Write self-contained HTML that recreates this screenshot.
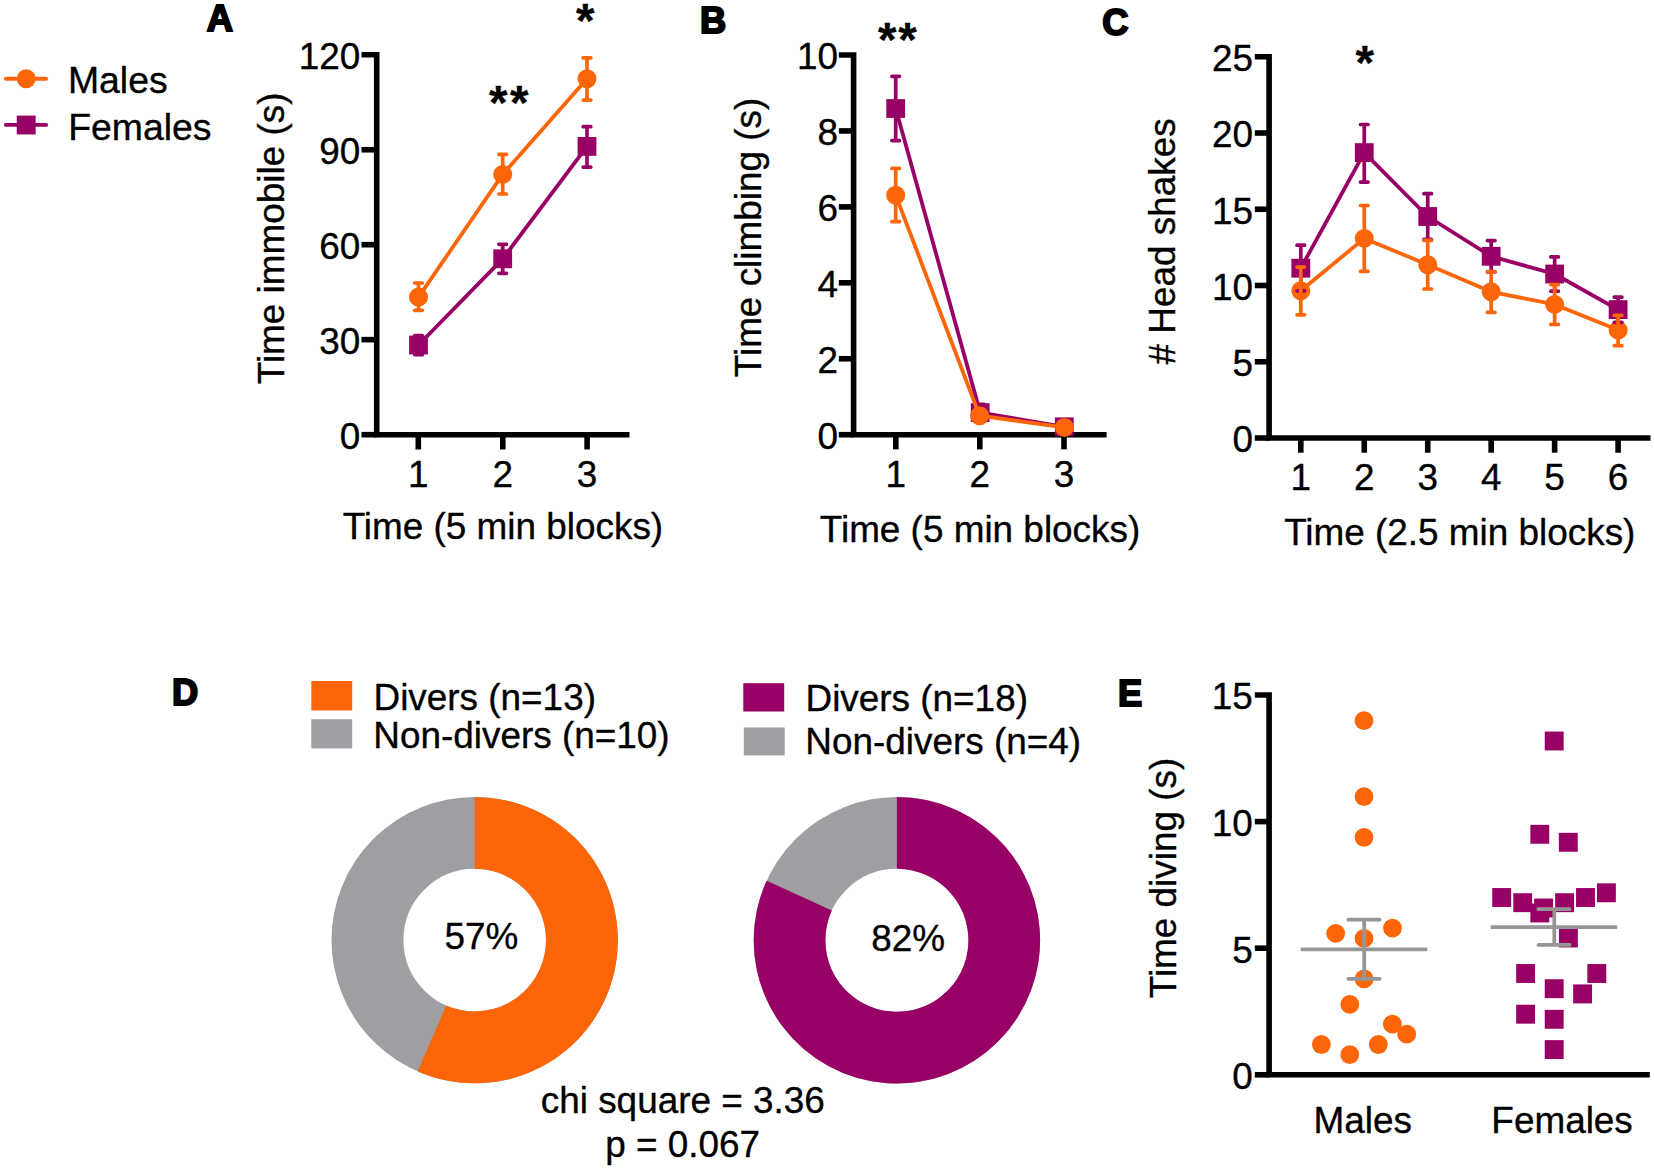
<!DOCTYPE html>
<html lang="en"><head><meta charset="utf-8"><title>Figure</title>
<style>
html,body{margin:0;padding:0;background:#fff;}
body{width:1654px;height:1170px;overflow:hidden;}
svg{display:block;}
svg text{font-family:"Liberation Sans",sans-serif;fill:#000;stroke:#000;stroke-width:0.35px;stroke-linejoin:round;}
</style></head><body>
<svg width="1654" height="1170" viewBox="0 0 1654 1170">
<rect width="1654" height="1170" fill="#fff"/>
<text x="206.7" y="31.2" font-size="36.3" text-anchor="start" font-weight="700" style="stroke-width:2px;stroke-linejoin:miter">A</text>
<text x="700.1" y="32.8" font-size="36.3" text-anchor="start" font-weight="700" style="stroke-width:2px;stroke-linejoin:miter">B</text>
<text x="1102.2" y="35.3" font-size="36.3" text-anchor="start" font-weight="700" style="stroke-width:2px;stroke-linejoin:miter">C</text>
<text x="171.9" y="704.9" font-size="36.3" text-anchor="start" font-weight="700" style="stroke-width:2px;stroke-linejoin:miter">D</text>
<text x="1118.0" y="705.7" font-size="36.3" text-anchor="start" font-weight="700" style="stroke-width:2px;stroke-linejoin:miter">E</text>
<line x1="5.85" y1="78.75" x2="46.15" y2="78.75" stroke="#FC6609" stroke-width="3.9" stroke-linecap="round"/>
<circle cx="26.2" cy="78.8" r="9.5" fill="#FC6609"/>
<line x1="5.85" y1="124.9" x2="46.15" y2="124.9" stroke="#990066" stroke-width="3.9" stroke-linecap="round"/>
<rect x="16.75" y="115.6" width="18.9" height="18.85" fill="#990066"/>
<text x="67.9" y="93.4" font-size="37.4" text-anchor="start">Males</text>
<text x="68.2" y="139.7" font-size="37.4" text-anchor="start">Females</text>
<path d="M361.5 54.8H376.7V434.7H629.5" fill="none" stroke="#000" stroke-width="5.6" stroke-linejoin="miter"/>
<line x1="361.5" y1="434.7" x2="376.7" y2="434.7" stroke="#000" stroke-width="5.6" stroke-linecap="butt"/>
<line x1="361.5" y1="149.75" x2="376.7" y2="149.75" stroke="#000" stroke-width="5.6" stroke-linecap="butt"/>
<line x1="361.5" y1="244.7" x2="376.7" y2="244.7" stroke="#000" stroke-width="5.6" stroke-linecap="butt"/>
<line x1="361.5" y1="339.65" x2="376.7" y2="339.65" stroke="#000" stroke-width="5.6" stroke-linecap="butt"/>
<line x1="418.3" y1="434.7" x2="418.3" y2="449.5" stroke="#000" stroke-width="5.6" stroke-linecap="butt"/>
<line x1="502.8" y1="434.7" x2="502.8" y2="449.5" stroke="#000" stroke-width="5.6" stroke-linecap="butt"/>
<line x1="587.1" y1="434.7" x2="587.1" y2="449.5" stroke="#000" stroke-width="5.6" stroke-linecap="butt"/>
<text x="360.2" y="449.05" font-size="36.9" text-anchor="end">0</text>
<text x="360.2" y="354.09999999999997" font-size="36.9" text-anchor="end">30</text>
<text x="360.2" y="259.15" font-size="36.9" text-anchor="end">60</text>
<text x="360.2" y="164.2" font-size="36.9" text-anchor="end">90</text>
<text x="360.2" y="69.25" font-size="36.9" text-anchor="end">120</text>
<text x="418.3" y="486.7" font-size="36.9" text-anchor="middle">1</text>
<text x="502.8" y="486.7" font-size="36.9" text-anchor="middle">2</text>
<text x="587.1" y="486.7" font-size="36.9" text-anchor="middle">3</text>
<text x="502.9" y="539.2" font-size="36.9" text-anchor="middle">Time (5 min blocks)</text>
<text x="284.3" y="238.4" font-size="36.9" text-anchor="middle" transform="rotate(-90 284.3 238.4)">Time immobile (s)</text>
<path d="M418.5 345.0L502.7 258.8L587.0 146.4" fill="none" stroke="#990066" stroke-width="3.8" stroke-linejoin="round"/>
<rect x="409.1" y="335.6" width="18.8" height="18.8" fill="#990066"/>
<rect x="493.3" y="249.4" width="18.8" height="18.8" fill="#990066"/>
<rect x="577.6" y="137.0" width="18.8" height="18.8" fill="#990066"/>
<path d="M418.5 297.1L502.7 174.4L587.0 78.7" fill="none" stroke="#FC6609" stroke-width="3.8" stroke-linejoin="round"/>
<circle cx="418.5" cy="297.1" r="9.5" fill="#FC6609"/>
<circle cx="502.7" cy="174.4" r="9.5" fill="#FC6609"/>
<circle cx="587.0" cy="78.7" r="9.5" fill="#FC6609"/>
<path d="M418.5 335.5V354.7M414.7 335.5h7.6M414.7 354.7h7.6" fill="none" stroke="#990066" stroke-width="3.7" stroke-linecap="round"/>
<path d="M502.7 244.3V273.3M498.9 244.3h7.6M498.9 273.3h7.6" fill="none" stroke="#990066" stroke-width="3.7" stroke-linecap="round"/>
<path d="M587.0 126.7V167.1M583.2 126.7h7.6M583.2 167.1h7.6" fill="none" stroke="#990066" stroke-width="3.7" stroke-linecap="round"/>
<path d="M418.5 283.0V310.3M414.7 283.0h7.6M414.7 310.3h7.6" fill="none" stroke="#FC6609" stroke-width="3.7" stroke-linecap="round"/>
<path d="M502.7 154.3V194.0M498.9 154.3h7.6M498.9 194.0h7.6" fill="none" stroke="#FC6609" stroke-width="3.7" stroke-linecap="round"/>
<path d="M587.0 57.9V100.1M583.2 57.9h7.6M583.2 100.1h7.6" fill="none" stroke="#FC6609" stroke-width="3.7" stroke-linecap="round"/>
<text x="489.0" y="118.9" font-size="47.5" text-anchor="start" font-weight="700" letter-spacing="2.6">**</text>
<text x="585.2" y="37.2" font-size="47.5" text-anchor="middle" font-weight="700">*</text>
<path d="M838.8 55.0H853.6V434.7H1106.6" fill="none" stroke="#000" stroke-width="5.6" stroke-linejoin="miter"/>
<line x1="838.8" y1="434.7" x2="853.6" y2="434.7" stroke="#000" stroke-width="5.6" stroke-linecap="butt"/>
<line x1="838.8" y1="130.94" x2="853.6" y2="130.94" stroke="#000" stroke-width="5.6" stroke-linecap="butt"/>
<line x1="838.8" y1="206.88" x2="853.6" y2="206.88" stroke="#000" stroke-width="5.6" stroke-linecap="butt"/>
<line x1="838.8" y1="282.82" x2="853.6" y2="282.82" stroke="#000" stroke-width="5.6" stroke-linecap="butt"/>
<line x1="838.8" y1="358.76" x2="853.6" y2="358.76" stroke="#000" stroke-width="5.6" stroke-linecap="butt"/>
<line x1="895.8" y1="434.7" x2="895.8" y2="449.4" stroke="#000" stroke-width="5.6" stroke-linecap="butt"/>
<line x1="979.8" y1="434.7" x2="979.8" y2="449.4" stroke="#000" stroke-width="5.6" stroke-linecap="butt"/>
<line x1="1064.0" y1="434.7" x2="1064.0" y2="449.4" stroke="#000" stroke-width="5.6" stroke-linecap="butt"/>
<text x="838.0" y="449.15" font-size="36.9" text-anchor="end">0</text>
<text x="838.0" y="373.21" font-size="36.9" text-anchor="end">2</text>
<text x="838.0" y="297.27" font-size="36.9" text-anchor="end">4</text>
<text x="838.0" y="221.32999999999998" font-size="36.9" text-anchor="end">6</text>
<text x="838.0" y="145.39" font-size="36.9" text-anchor="end">8</text>
<text x="838.0" y="69.45" font-size="36.9" text-anchor="end">10</text>
<text x="895.8" y="486.9" font-size="36.9" text-anchor="middle">1</text>
<text x="979.8" y="486.9" font-size="36.9" text-anchor="middle">2</text>
<text x="1064.0" y="486.9" font-size="36.9" text-anchor="middle">3</text>
<text x="980.0" y="541.8" font-size="36.9" text-anchor="middle">Time (5 min blocks)</text>
<text x="761.3" y="237.5" font-size="36.9" text-anchor="middle" transform="rotate(-90 761.3 237.5)">Time climbing (s)</text>
<path d="M895.7 108.5L980.2 412.6L1064.3 426.8" fill="none" stroke="#990066" stroke-width="3.8" stroke-linejoin="round"/>
<rect x="886.3000000000001" y="99.1" width="18.8" height="18.8" fill="#990066"/>
<rect x="970.8000000000001" y="403.20000000000005" width="18.8" height="18.8" fill="#990066"/>
<rect x="1054.8999999999999" y="417.40000000000003" width="18.8" height="18.8" fill="#990066"/>
<path d="M895.7 76.3V140.6M891.9000000000001 76.3h7.6M891.9000000000001 140.6h7.6" fill="none" stroke="#990066" stroke-width="3.7" stroke-linecap="round"/>
<path d="M980.2 404.3V420.9M976.4000000000001 404.3h7.6M976.4000000000001 420.9h7.6" fill="none" stroke="#990066" stroke-width="3.7" stroke-linecap="round"/>
<path d="M895.7 195.2L979.6 415.7L1064.4 427.4" fill="none" stroke="#FC6609" stroke-width="3.8" stroke-linejoin="round"/>
<circle cx="895.7" cy="195.2" r="9.5" fill="#FC6609"/>
<circle cx="979.6" cy="415.7" r="9.5" fill="#FC6609"/>
<circle cx="1064.4" cy="427.4" r="9.5" fill="#FC6609"/>
<path d="M895.7 168.4V221.7M891.9000000000001 168.4h7.6M891.9000000000001 221.7h7.6" fill="none" stroke="#FC6609" stroke-width="3.7" stroke-linecap="round"/>
<text x="877.9" y="55.9" font-size="47.5" text-anchor="start" font-weight="700" letter-spacing="1.8">**</text>
<path d="M1254.8 56.75H1269.1V438.0H1650.5" fill="none" stroke="#000" stroke-width="5.6" stroke-linejoin="miter"/>
<line x1="1254.8" y1="438.0" x2="1269.1" y2="438.0" stroke="#000" stroke-width="5.6" stroke-linecap="butt"/>
<line x1="1254.8" y1="133.0" x2="1269.1" y2="133.0" stroke="#000" stroke-width="5.6" stroke-linecap="butt"/>
<line x1="1254.8" y1="209.25" x2="1269.1" y2="209.25" stroke="#000" stroke-width="5.6" stroke-linecap="butt"/>
<line x1="1254.8" y1="285.5" x2="1269.1" y2="285.5" stroke="#000" stroke-width="5.6" stroke-linecap="butt"/>
<line x1="1254.8" y1="361.75" x2="1269.1" y2="361.75" stroke="#000" stroke-width="5.6" stroke-linecap="butt"/>
<line x1="1300.8" y1="438.0" x2="1300.8" y2="452.7" stroke="#000" stroke-width="5.6" stroke-linecap="butt"/>
<line x1="1364.26" y1="438.0" x2="1364.26" y2="452.7" stroke="#000" stroke-width="5.6" stroke-linecap="butt"/>
<line x1="1427.72" y1="438.0" x2="1427.72" y2="452.7" stroke="#000" stroke-width="5.6" stroke-linecap="butt"/>
<line x1="1491.18" y1="438.0" x2="1491.18" y2="452.7" stroke="#000" stroke-width="5.6" stroke-linecap="butt"/>
<line x1="1554.64" y1="438.0" x2="1554.64" y2="452.7" stroke="#000" stroke-width="5.6" stroke-linecap="butt"/>
<line x1="1618.1" y1="438.0" x2="1618.1" y2="452.7" stroke="#000" stroke-width="5.6" stroke-linecap="butt"/>
<text x="1253.0" y="452.45" font-size="36.9" text-anchor="end">0</text>
<text x="1253.0" y="376.2" font-size="36.9" text-anchor="end">5</text>
<text x="1253.0" y="299.95" font-size="36.9" text-anchor="end">10</text>
<text x="1253.0" y="223.7" font-size="36.9" text-anchor="end">15</text>
<text x="1253.0" y="147.45" font-size="36.9" text-anchor="end">20</text>
<text x="1253.0" y="71.2" font-size="36.9" text-anchor="end">25</text>
<text x="1300.8" y="490.4" font-size="36.9" text-anchor="middle">1</text>
<text x="1364.26" y="490.4" font-size="36.9" text-anchor="middle">2</text>
<text x="1427.72" y="490.4" font-size="36.9" text-anchor="middle">3</text>
<text x="1491.18" y="490.4" font-size="36.9" text-anchor="middle">4</text>
<text x="1554.64" y="490.4" font-size="36.9" text-anchor="middle">5</text>
<text x="1618.1" y="490.4" font-size="36.9" text-anchor="middle">6</text>
<text x="1459.8" y="545.1" font-size="36.9" text-anchor="middle">Time (2.5 min blocks)</text>
<text x="1175.2" y="241.4" font-size="36.9" text-anchor="middle" transform="rotate(-90 1175.2 241.4)"># Head shakes</text>
<path d="M1300.8 268.2L1364.26 152.6L1427.72 216.5L1491.18 256.3L1554.64 274.0L1618.1 309.6" fill="none" stroke="#990066" stroke-width="3.8" stroke-linejoin="round"/>
<rect x="1291.3999999999999" y="258.8" width="18.8" height="18.8" fill="#990066"/>
<rect x="1354.86" y="143.2" width="18.8" height="18.8" fill="#990066"/>
<rect x="1418.32" y="207.1" width="18.8" height="18.8" fill="#990066"/>
<rect x="1481.78" y="246.9" width="18.8" height="18.8" fill="#990066"/>
<rect x="1545.24" y="264.6" width="18.8" height="18.8" fill="#990066"/>
<rect x="1608.6999999999998" y="300.20000000000005" width="18.8" height="18.8" fill="#990066"/>
<path d="M1300.8 290.7L1364.26 238.4L1427.72 264.7L1491.18 291.8L1554.64 304.4L1618.1 330.1" fill="none" stroke="#FC6609" stroke-width="3.8" stroke-linejoin="round"/>
<circle cx="1300.8" cy="290.7" r="9.5" fill="#FC6609"/>
<circle cx="1364.26" cy="238.4" r="9.5" fill="#FC6609"/>
<circle cx="1427.72" cy="264.7" r="9.5" fill="#FC6609"/>
<circle cx="1491.18" cy="291.8" r="9.5" fill="#FC6609"/>
<circle cx="1554.64" cy="304.4" r="9.5" fill="#FC6609"/>
<circle cx="1618.1" cy="330.1" r="9.5" fill="#FC6609"/>
<path d="M1300.8 245.2V290.8M1297.0 245.2h7.6M1297.0 290.8h7.6" fill="none" stroke="#990066" stroke-width="3.7" stroke-linecap="round"/>
<path d="M1364.26 124.5V182.1M1360.46 124.5h7.6M1360.46 182.1h7.6" fill="none" stroke="#990066" stroke-width="3.7" stroke-linecap="round"/>
<path d="M1427.72 193.7V239.4M1423.92 193.7h7.6M1423.92 239.4h7.6" fill="none" stroke="#990066" stroke-width="3.7" stroke-linecap="round"/>
<path d="M1491.18 240.6V272.0M1487.38 240.6h7.6M1487.38 272.0h7.6" fill="none" stroke="#990066" stroke-width="3.7" stroke-linecap="round"/>
<path d="M1554.64 256.9V291.2M1550.8400000000001 256.9h7.6M1550.8400000000001 291.2h7.6" fill="none" stroke="#990066" stroke-width="3.7" stroke-linecap="round"/>
<path d="M1618.1 297.2V322.3M1614.3 297.2h7.6M1614.3 322.3h7.6" fill="none" stroke="#990066" stroke-width="3.7" stroke-linecap="round"/>
<path d="M1300.8 267.1V314.8M1297.0 267.1h7.6M1297.0 314.8h7.6" fill="none" stroke="#FC6609" stroke-width="3.7" stroke-linecap="round"/>
<path d="M1364.26 205.5V271.3M1360.46 205.5h7.6M1360.46 271.3h7.6" fill="none" stroke="#FC6609" stroke-width="3.7" stroke-linecap="round"/>
<path d="M1427.72 240.4V289.0M1423.92 240.4h7.6M1423.92 289.0h7.6" fill="none" stroke="#FC6609" stroke-width="3.7" stroke-linecap="round"/>
<path d="M1491.18 271.7V312.4M1487.38 271.7h7.6M1487.38 312.4h7.6" fill="none" stroke="#FC6609" stroke-width="3.7" stroke-linecap="round"/>
<path d="M1554.64 284.6V324.4M1550.8400000000001 284.6h7.6M1550.8400000000001 324.4h7.6" fill="none" stroke="#FC6609" stroke-width="3.7" stroke-linecap="round"/>
<path d="M1618.1 315.4V345.7M1614.3 315.4h7.6M1614.3 345.7h7.6" fill="none" stroke="#FC6609" stroke-width="3.7" stroke-linecap="round"/>
<text x="1364.8" y="78.8" font-size="47.5" text-anchor="middle" font-weight="700">*</text>
<rect x="311.3" y="681" width="40.9" height="29.5" fill="#FC6609"/>
<rect x="311.3" y="719.2" width="40.9" height="29.2" fill="#9F9EA2"/>
<text x="373.5" y="709.9" font-size="36.9" text-anchor="start">Divers (n=13)</text>
<text x="373.3" y="748.1" font-size="36.9" text-anchor="start">Non-divers (n=10)</text>
<rect x="743.3" y="683.2" width="40.9" height="28.3" fill="#990066"/>
<rect x="743.8" y="727.5" width="40.9" height="27.9" fill="#9F9EA2"/>
<text x="805.5" y="710.5" font-size="36.9" text-anchor="start">Divers (n=18)</text>
<text x="805.3" y="753.8" font-size="36.9" text-anchor="start">Non-divers (n=4)</text>
<circle cx="474.7" cy="940.1" r="107.25" fill="none" stroke="#9F9EA2" stroke-width="71.89999999999999"/>
<path d="M474.7 796.9000000000001A143.2 143.2 0 1 1 417.65 1071.44L446.29 1005.50A71.3 71.3 0 1 0 474.7 868.8000000000001Z" fill="#FC6609"/>
<circle cx="896.9" cy="940.3" r="107.35" fill="none" stroke="#9F9EA2" stroke-width="71.69999999999999"/>
<path d="M896.9 797.0999999999999A143.2 143.2 0 1 1 766.64 880.81L831.86 910.60A71.5 71.5 0 1 0 896.9 868.8Z" fill="#990066"/>
<text x="481.4" y="949.0" font-size="36.9" text-anchor="middle">57%</text>
<text x="908.2" y="950.7" font-size="36.9" text-anchor="middle">82%</text>
<text x="682.8" y="1112.8" font-size="36.9" text-anchor="middle">chi square = 3.36</text>
<text x="682.6" y="1157.3" font-size="36.9" text-anchor="middle">p = 0.067</text>
<path d="M1254.8 695.0H1269.1V1074.8H1649.8" fill="none" stroke="#000" stroke-width="5.6"/>
<line x1="1254.8" y1="1074.8" x2="1269.1" y2="1074.8" stroke="#000" stroke-width="5.6" stroke-linecap="butt"/>
<line x1="1254.8" y1="948.1999999999999" x2="1269.1" y2="948.1999999999999" stroke="#000" stroke-width="5.6" stroke-linecap="butt"/>
<line x1="1254.8" y1="821.5999999999999" x2="1269.1" y2="821.5999999999999" stroke="#000" stroke-width="5.6" stroke-linecap="butt"/>
<text x="1252.8" y="1089.25" font-size="36.9" text-anchor="end">0</text>
<text x="1252.8" y="962.65" font-size="36.9" text-anchor="end">5</text>
<text x="1252.8" y="836.05" font-size="36.9" text-anchor="end">10</text>
<text x="1252.8" y="709.45" font-size="36.9" text-anchor="end">15</text>
<text x="1176.2" y="878.0" font-size="36.9" text-anchor="middle" transform="rotate(-90 1176.2 878.0)">Time diving (s)</text>
<text x="1362.8" y="1132.9" font-size="36.9" text-anchor="middle">Males</text>
<text x="1562.1" y="1132.9" font-size="36.9" text-anchor="middle">Females</text>
<circle cx="1364.0" cy="720.7" r="9.4" fill="#FC6609"/>
<circle cx="1364.0" cy="796.7" r="9.4" fill="#FC6609"/>
<circle cx="1364.0" cy="837.3" r="9.4" fill="#FC6609"/>
<circle cx="1335.7" cy="933.3" r="9.4" fill="#FC6609"/>
<circle cx="1392.5" cy="928.1" r="9.4" fill="#FC6609"/>
<circle cx="1364.0" cy="938.4" r="9.4" fill="#FC6609"/>
<circle cx="1364.1" cy="978.9" r="9.4" fill="#FC6609"/>
<circle cx="1349.8" cy="1004.4" r="9.4" fill="#FC6609"/>
<circle cx="1392.4" cy="1024.1" r="9.4" fill="#FC6609"/>
<circle cx="1406.7" cy="1034.2" r="9.4" fill="#FC6609"/>
<circle cx="1321.4" cy="1044.5" r="9.4" fill="#FC6609"/>
<circle cx="1378.3" cy="1044.5" r="9.4" fill="#FC6609"/>
<circle cx="1349.8" cy="1054.7" r="9.4" fill="#FC6609"/>
<rect x="1544.75" y="731.55" width="18.9" height="18.9" fill="#990066"/>
<rect x="1530.35" y="824.85" width="18.9" height="18.9" fill="#990066"/>
<rect x="1558.85" y="832.85" width="18.9" height="18.9" fill="#990066"/>
<rect x="1492.25" y="888.05" width="18.9" height="18.9" fill="#990066"/>
<rect x="1513.25" y="893.25" width="18.9" height="18.9" fill="#990066"/>
<rect x="1534.15" y="898.55" width="18.9" height="18.9" fill="#990066"/>
<rect x="1530.35" y="903.55" width="18.9" height="18.9" fill="#990066"/>
<rect x="1555.15" y="893.25" width="18.9" height="18.9" fill="#990066"/>
<rect x="1576.05" y="888.05" width="18.9" height="18.9" fill="#990066"/>
<rect x="1596.95" y="883.35" width="18.9" height="18.9" fill="#990066"/>
<rect x="1558.95" y="928.55" width="18.9" height="18.9" fill="#990066"/>
<rect x="1516.15" y="964.05" width="18.9" height="18.9" fill="#990066"/>
<rect x="1587.35" y="964.05" width="18.9" height="18.9" fill="#990066"/>
<rect x="1544.75" y="979.25" width="18.9" height="18.9" fill="#990066"/>
<rect x="1573.15" y="984.45" width="18.9" height="18.9" fill="#990066"/>
<rect x="1516.15" y="1004.75" width="18.9" height="18.9" fill="#990066"/>
<rect x="1544.75" y="1009.85" width="18.9" height="18.9" fill="#990066"/>
<rect x="1544.75" y="1040.15" width="18.9" height="18.9" fill="#990066"/>
<path d="M1300.8 949.3H1427.2" fill="none" stroke="#969696" stroke-width="3.8"/>
<path d="M1364.2 919.7V978.8M1348.4 919.7H1379.6M1348.4 978.8H1379.6" fill="none" stroke="#969696" stroke-width="3.8" stroke-linecap="round"/>
<path d="M1490.8 927.05H1617.2" fill="none" stroke="#969696" stroke-width="3.8"/>
<path d="M1554.3 909.05V944.9M1538.4 909.05H1569.6M1538.4 944.9H1569.6" fill="none" stroke="#969696" stroke-width="3.8" stroke-linecap="round"/>
</svg></body></html>
